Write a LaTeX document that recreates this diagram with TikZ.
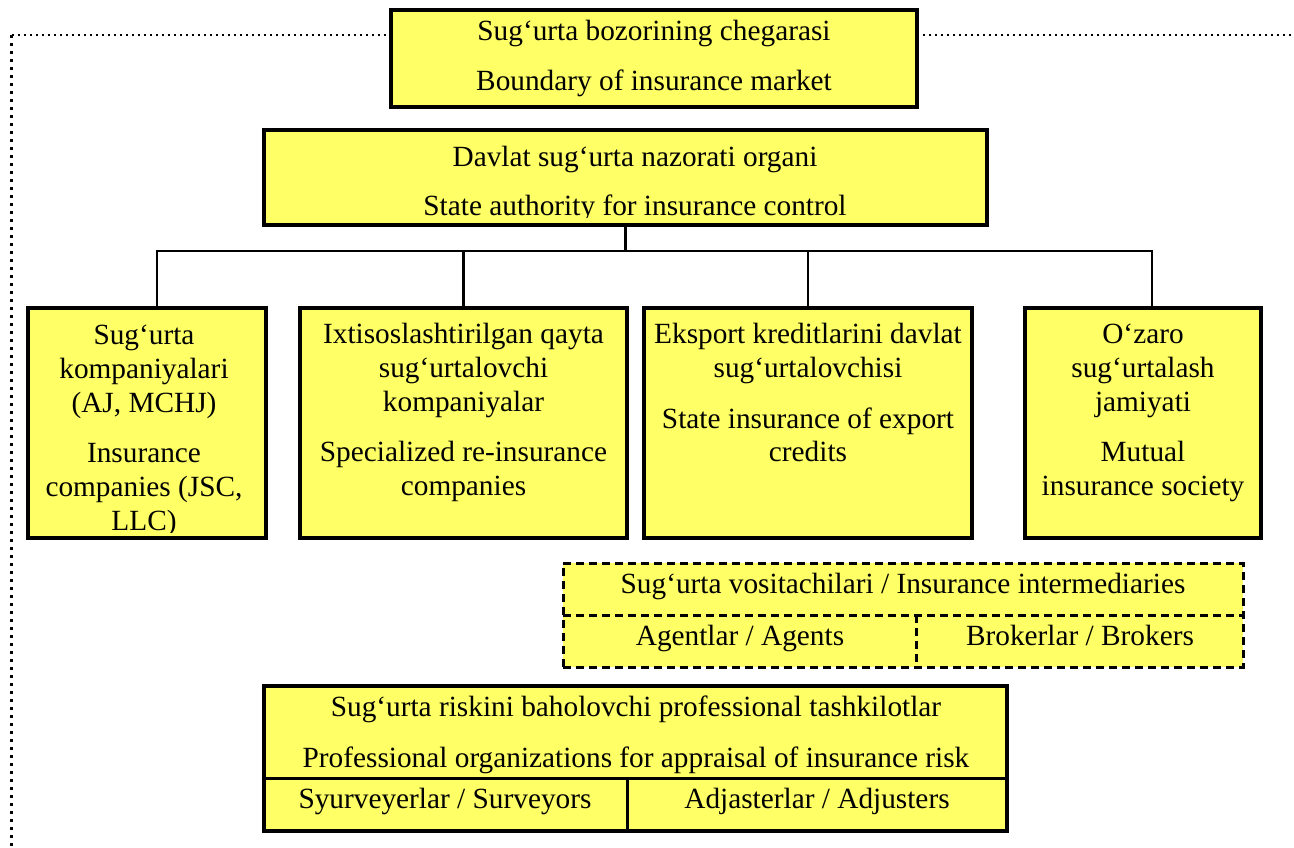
\documentclass[tikz,border=0pt]{standalone}
\usepackage{fontspec}
\setmainfont{Liberation Serif}
\definecolor{boxyellow}{RGB}{255,255,102}
\begin{document}
\begin{tikzpicture}[x=1pt, y=-1pt,
  panel/.style={draw=black, fill=boxyellow, line width=3.2pt, rectangle,
    inner sep=0pt, outer sep=0pt, anchor=north west},
  dpanel/.style={panel, line width=3pt, dash pattern=on 8pt off 5pt},
  txt/.style={anchor=base, inner sep=0pt, font=\fontsize{29.3}{35}\selectfont},
  link/.style={draw=black, line width=2.7pt},
  divider/.style={draw=black, line width=3pt},
  ddivider/.style={draw=black, line width=3pt, dash pattern=on 8pt off 5pt},
  hdots/.style={draw=black, line width=2.4pt, dash pattern=on 2.4pt off 3.6pt},
  vdots/.style={draw=black, line width=3pt, dash pattern=on 3pt off 5pt}]
\useasboundingbox (0,0) rectangle (1294,847);

% market boundary (dotted frame)
\coordinate (bTL) at (11.5,35);
\coordinate (bBL) at (11.5,847);
\coordinate (bR) at (1294,35);

% boxes
\node[panel, minimum width=526pt, minimum height=97pt] (market) at (391,10) {};
\node[panel, minimum width=723pt, minimum height=95pt] (state) at (264,130) {};
\node[panel, minimum width=238pt, minimum height=230pt] (firms) at (28,308) {};
\node[panel, minimum width=327pt, minimum height=230pt] (reins) at (300,308) {};
\node[panel, minimum width=328pt, minimum height=230pt] (export) at (644,308) {};
\node[panel, minimum width=236pt, minimum height=230pt] (mutual) at (1025,308) {};
\node[dpanel, minimum width=680pt, minimum height=104pt] (interm) at (563,563) {};
\node[panel, minimum width=743pt, minimum height=145pt] (apprais) at (264,686) {};

\draw[hdots] (bTL) -- (market.west |- bTL);
\draw[vdots] (bTL) -- (bBL);
\draw[hdots] (market.east |- bR) -- (bR);

% connectors from the supervisory authority
\draw[link] (state.south) -- ++(0,26) coordinate (bus);
\draw[link] ([xshift=10pt]firms.north) |- (bus);
\draw[link] ([xshift=9pt]mutual.north) |- (bus);
\draw[link] (reins.north) -- (reins.north |- bus);
\draw[link] (export.north) -- (export.north |- bus);

% inner dividers
\coordinate (idiv) at (916,615);
\draw[ddivider] (interm.west |- idiv) -- (interm.east |- idiv);
\draw[ddivider] (idiv) -- (idiv |- interm.south);
\coordinate (adiv) at (627,778);
\draw[divider] (apprais.west |- adiv) -- (apprais.east |- adiv);
\draw[divider] (adiv) -- (adiv |- apprais.south);

% texts
\node[txt] (marketUz) at (654,40) {Sug‘urta bozorining chegarasi};
\node[txt] (marketEn) at (654,90) {Boundary of insurance market};

\begin{scope}
  \clip (state.north west) rectangle ([yshift=8pt]state.south east);
  \node[txt] (stateUz) at (635,166) {Davlat sug‘urta nazorati organi};
  \node[txt] (stateEn) at (635,215) {State authority for insurance control};
\end{scope}

\begin{scope}
  \clip (firms.north west) rectangle ([yshift=6pt]firms.south east);
  \node[txt] (firms1) at (144,344) {Sug‘urta};
  \node[txt] (firms2) at (144,378) {kompaniyalari};
  \node[txt] (firms3) at (144,412) {(AJ, MCHJ)};
  \node[txt] (firms4) at (144,462) {Insurance};
  \node[txt] (firms5) at (144,496) {companies (JSC,};
  \node[txt] (firms6) at (144,530) {LLC)};
\end{scope}

\node[txt] (reins1) at (463.5,343) {Ixtisoslashtirilgan qayta};
\node[txt] (reins2) at (463.5,377) {sug‘urtalovchi};
\node[txt] (reins3) at (463.5,411) {kompaniyalar};
\node[txt] (reins4) at (463.5,461) {Specialized re-insurance};
\node[txt] (reins5) at (463.5,495) {companies};

\node[txt] (export1) at (808,343) {Eksport kreditlarini davlat};
\node[txt] (export2) at (808,377) {sug‘urtalovchisi};
\node[txt] (export3) at (808,428) {State insurance of export};
\node[txt] (export4) at (808,461) {credits};

\node[txt] (mutual1) at (1143,343) {O‘zaro};
\node[txt] (mutual2) at (1143,377) {sug‘urtalash};
\node[txt] (mutual3) at (1143,411) {jamiyati};
\node[txt] (mutual4) at (1143,461) {Mutual};
\node[txt] (mutual5) at (1143,495) {insurance society};

\node[txt] (intermT) at (903,593) {Sug‘urta vositachilari / Insurance intermediaries};
\node[txt] (agents) at (740,645) {Agentlar / Agents};
\node[txt] (brokers) at (1080,645) {Brokerlar / Brokers};

\node[txt] (appraisUz) at (636,716) {Sug‘urta riskini baholovchi professional tashkilotlar};
\node[txt] (appraisEn) at (636,767) {Professional organizations for appraisal of insurance risk};
\node[txt] (surveyors) at (445,808) {Syurveyerlar / Surveyors};
\node[txt] (adjusters) at (817,808) {Adjasterlar / Adjusters};
\end{tikzpicture}
\end{document}
